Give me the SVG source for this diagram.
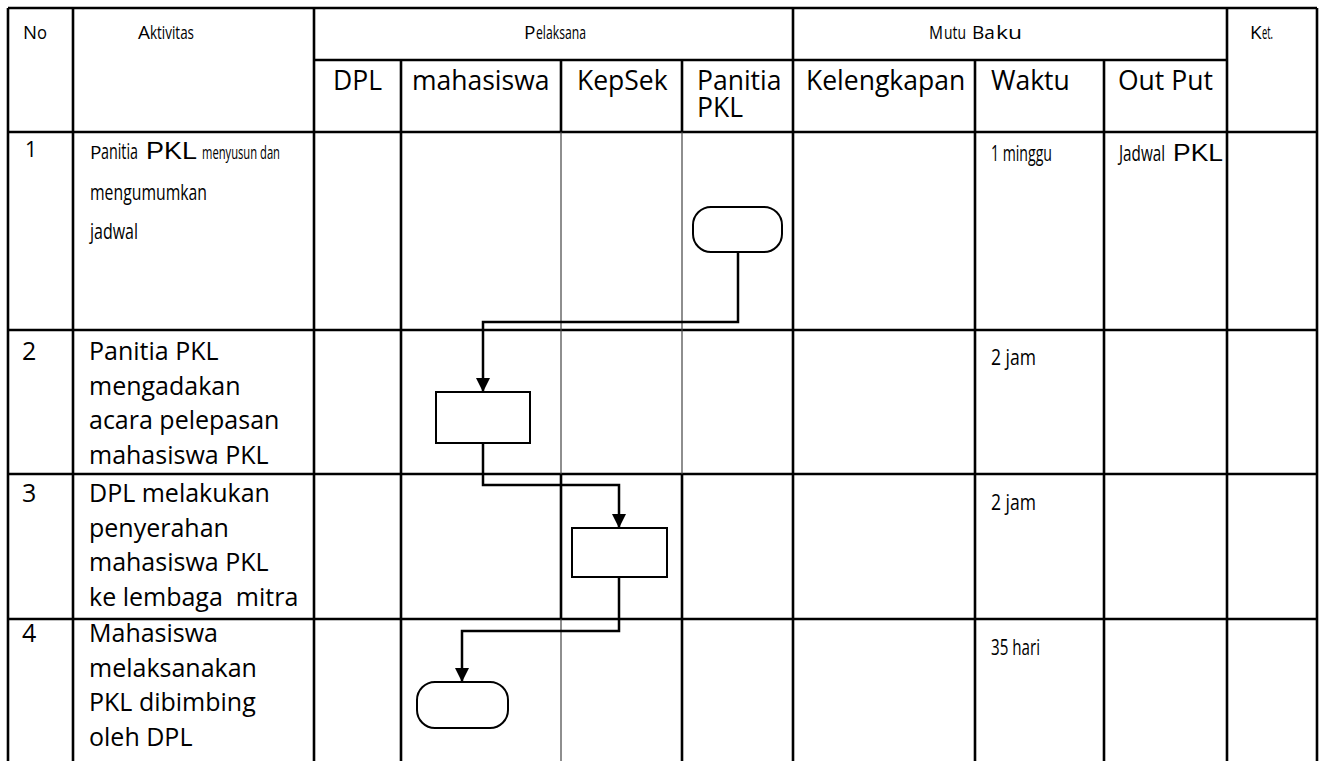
<svg xmlns="http://www.w3.org/2000/svg" width="1324" height="761" viewBox="0 0 1324 761">
<defs>
<marker id="arr" markerWidth="14" markerHeight="14" refX="14" refY="7" orient="auto" markerUnits="userSpaceOnUse"><path d="M0,0 L14,7 L0,14 z" fill="#000"/></marker>
</defs>
<style>
.g{stroke:#000;stroke-width:2.6;fill:none}
.t{stroke:#444;stroke-width:1.2;fill:none}
text{fill:#000}
.txt{font-family:"Open Sans","Noto Sans",sans-serif;font-size:25px}
.hd{font-family:"Open Sans","Noto Sans",sans-serif;font-size:26.5px}
.c{font-family:"Open Sans","Noto Sans",sans-serif;font-size:19px}
.cb{font-family:"Open Sans","Noto Sans",sans-serif;font-size:21px}
.cs{font-family:"Open Sans","Noto Sans",sans-serif;font-size:18px}
.a{font-family:"Liberation Sans",Arial,sans-serif;font-size:24px}
.shape{fill:#fff;stroke:#000;stroke-width:2}
.conn{stroke:#000;stroke-width:2.5;fill:none}
.pre{white-space:pre}
</style>
<rect width="1324" height="761" fill="#fff"/>
<g id="grid">
<path class="g" d="M8,8 H1317 M314,60 H1227 M8,132 H1317 M8,330 H1317 M8,474 H1317 M8,619 H1317"/>
<path class="g" d="M8,8 V761 M73,8 V761 M314,8 V761 M401,60 V761 M561,60 V132 M561,474 V619 M682,60 V132 M682,474 V761 M793,8 V761 M975,60 V761 M1104,60 V761 M1227,8 V761 M1317,8 V761"/>
<path class="t" d="M561,132 V474 M561,619 V761 M682,132 V474"/>
</g>
<g id="header">
<text y="39"><tspan class="c" x="23" textLength="14" lengthAdjust="spacingAndGlyphs">N</tspan><tspan class="cs" x="37" textLength="10" lengthAdjust="spacingAndGlyphs">o</tspan></text>
<text y="39"><tspan class="c" x="138">A</tspan><tspan class="cs" x="150" textLength="44" lengthAdjust="spacingAndGlyphs">ktivitas</tspan></text>
<text y="39"><tspan class="c" x="524">P</tspan><tspan class="cs" x="536" textLength="50" lengthAdjust="spacingAndGlyphs">elaksana</tspan></text>
<text y="39"><tspan class="c" x="929" textLength="14" lengthAdjust="spacingAndGlyphs">M</tspan><tspan class="cs" x="944" textLength="22" lengthAdjust="spacingAndGlyphs">utu</tspan><tspan class="c" x="972">Ba</tspan><tspan class="cs" x="996" textLength="26" lengthAdjust="spacingAndGlyphs">ku</tspan></text>
<text y="39"><tspan class="c" x="1250">K</tspan><tspan class="cs" x="1262" textLength="11" lengthAdjust="spacingAndGlyphs">et.</tspan></text>
<text class="hd" x="333" y="90">DPL</text>
<text class="hd" x="412" y="90">mahasiswa</text>
<text class="hd" x="577" y="90">KepSek</text>
<text class="hd" x="697" y="90">Panitia</text>
<text class="hd" x="697" y="117">PKL</text>
<text class="hd" x="806" y="90">Kelengkapan</text>
<text class="hd" x="991" y="90">Waktu</text>
<text class="hd" x="1118" y="90">Out Put</text>
</g>
<g id="row1">
<text class="c" x="25" y="157" style="font-size:21px">1</text>
<text y="159"><tspan class="c" x="90">P</tspan><tspan class="cb" x="101" textLength="37" lengthAdjust="spacingAndGlyphs">anitia</tspan><tspan class="a" x="146" textLength="51" lengthAdjust="spacingAndGlyphs">PKL</tspan><tspan class="cs" x="202" textLength="78" lengthAdjust="spacingAndGlyphs">menyusun dan</tspan></text>
<text class="cb" x="90" y="200" textLength="117" lengthAdjust="spacingAndGlyphs">mengumumkan</text>
<text class="cb" x="90" y="239" textLength="48" lengthAdjust="spacingAndGlyphs">jadwal</text>
<text class="cb" x="991" y="161" textLength="61" lengthAdjust="spacingAndGlyphs">1 minggu</text>
<text y="161"><tspan class="cb" x="1119" textLength="46" lengthAdjust="spacingAndGlyphs">Jadwal</tspan><tspan class="a" x="1173" textLength="50" lengthAdjust="spacingAndGlyphs">PKL</tspan></text>
</g>
<g id="row2">
<text class="txt" x="22" y="360">2</text>
<text class="txt" x="89" y="360">Panitia PKL</text>
<text class="txt" x="89" y="394.5">mengadakan</text>
<text class="txt" x="89" y="429">acara pelepasan</text>
<text class="txt" x="89" y="463.5">mahasiswa PKL</text>
<text class="cb" x="991" y="365" textLength="45" lengthAdjust="spacingAndGlyphs">2 jam</text>
</g>
<g id="row3">
<text class="txt" x="22" y="502">3</text>
<text class="txt" x="89" y="502">DPL melakukan</text>
<text class="txt" x="89" y="536.5">penyerahan</text>
<text class="txt" x="89" y="571">mahasiswa PKL</text>
<text class="txt pre" x="89" y="605.5">ke lembaga  mitra</text>
<text class="cb" x="991" y="510" textLength="45" lengthAdjust="spacingAndGlyphs">2 jam</text>
</g>
<g id="row4">
<text class="txt" x="22" y="642">4</text>
<text class="txt" x="89" y="642">Mahasiswa</text>
<text class="txt" x="89" y="676.5">melaksanakan</text>
<text class="txt" x="89" y="711">PKL dibimbing</text>
<text class="txt" x="89" y="745.5">oleh DPL</text>
<text class="cb" x="991" y="655" textLength="49" lengthAdjust="spacingAndGlyphs">35 hari</text>
</g>
<g id="connectors">
<path class="conn" d="M738,252 V322 H483 V392" marker-end="url(#arr)"/>
<path class="conn" d="M483,443 V485 H619 V528" marker-end="url(#arr)"/>
<path class="conn" d="M619,577 V631 H462 V682" marker-end="url(#arr)"/>
</g>
<g id="start"><rect class="shape" x="693" y="207" width="89" height="45" rx="18"/></g>
<g id="step2"><rect class="shape" x="436" y="392" width="94" height="51"/></g>
<g id="step3"><rect class="shape" x="572" y="528" width="95" height="49"/></g>
<g id="end"><rect class="shape" x="417" y="682" width="91" height="46" rx="18"/></g>
</svg>
